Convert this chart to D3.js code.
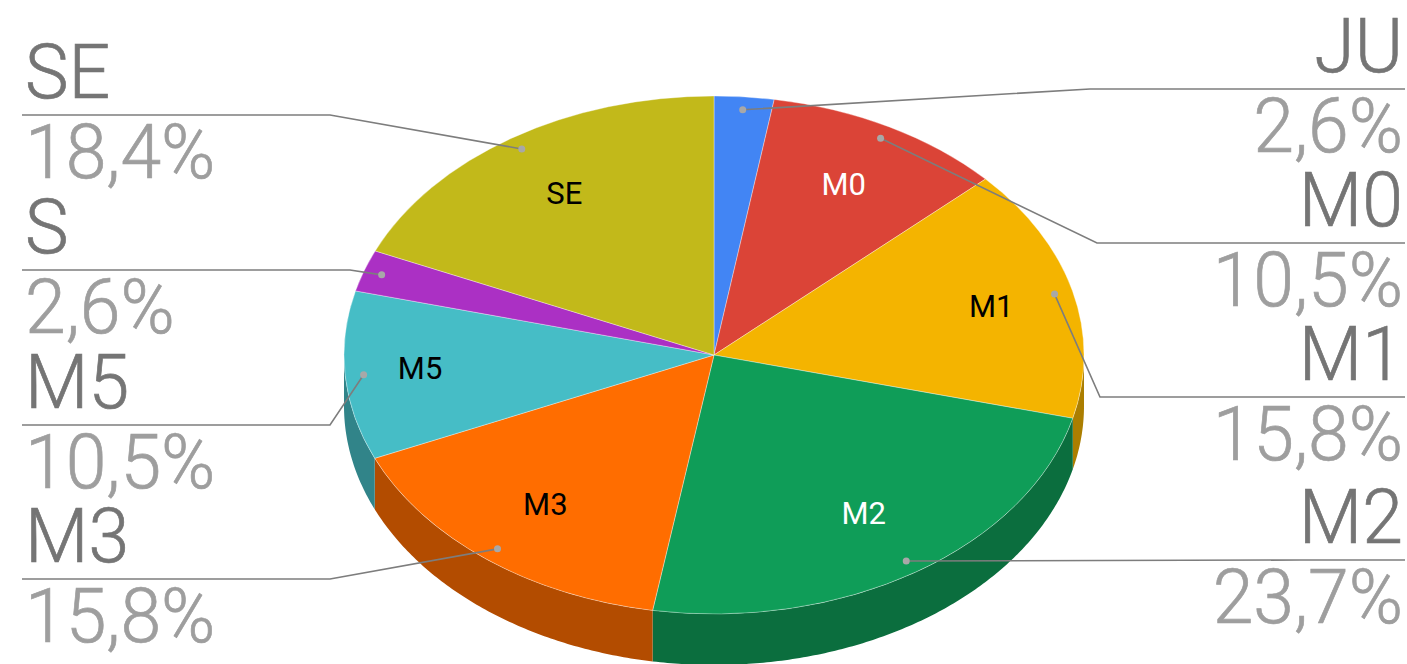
<!DOCTYPE html>
<html>
<head>
<meta charset="utf-8">
<title>Pie</title>
<script src="https://d3js.org/d3.v7.min.js"></script>
<style>
  html, body { margin: 0; padding: 0; background: #fff; }
  svg { display: block; font-family: Roboto, sans-serif; }
</style>
</head>
<body>
<svg id="chart" width="1407" height="664"></svg>
<script>
// data, clockwise from 12 o'clock
var names = ["JU", "M0", "M1", "M2", "M3", "M5", "S", "SE"];
var values = [2.6, 10.5, 15.8, 23.7, 15.8, 10.5, 2.6, 18.4];
var percentLabels = ["2,6%", "10,5%", "15,8%", "23,7%", "15,8%", "10,5%", "2,6%", "18,4%"];
var sliceColors = ["#4285f4", "#db4437", "#f4b400", "#0f9d58", "#ff6d00", "#46bdc6", "#ab30c4", "#c2b91a"];
var sideColors = ["#2e5dab", "#993026", "#ab7e00", "#0b6e3e", "#b34c00", "#318489", "#781f89", "#888212"];
var innerLabelColors = ["none", "#ffffff", "#000000", "#ffffff", "#000000", "#000000", "none", "#000000"];

var svg = d3.select("#chart");

// the tilted pie
var cx = 714, cy = 355, rx = 370, ry = 259, depth = 51;

var pie = d3.pie().sort(null).value(function (d) { return d; });
var slices = pie(values);

function px(a, k) { return cx + rx * k * Math.sin(a); }
function py(a, k) { return cy - ry * k * Math.cos(a); }
function midAngle(d) { return (d.startAngle + d.endAngle) / 2; }

// rim: only the part of the slice facing the viewer
var rim = d3.area()
  .x(function (a) { return px(a, 1); })
  .y0(function (a) { return py(a, 1); })
  .y1(function (a) { return py(a, 1) + depth; });

var rimGroup = svg.append("g");
slices.forEach(function (d, i) {
  var a0 = Math.max(d.startAngle, Math.PI / 2);
  var a1 = Math.min(d.endAngle, Math.PI * 1.5);
  if (a1 <= a0) return;
  rimGroup.append("path")
    .attr("d", rim(d3.range(a0, a1, 0.01).concat([a1])))
    .attr("fill", sideColors[i]);
});

// top face
var arc = d3.arc().innerRadius(0).outerRadius(rx);
svg.append("g")
  .attr("transform", "translate(" + cx + "," + cy + ") scale(1," + (ry / rx) + ")")
  .selectAll("path")
  .data(slices)
  .enter()
  .append("path")
  .attr("d", arc)
  .attr("fill", function (d, i) { return sliceColors[i]; })
  .attr("stroke", "#ffffff")
  .attr("stroke-opacity", 0.35)
  .attr("stroke-width", 1)
  .attr("vector-effect", "non-scaling-stroke");

// labels inside the slices, the two sideways ones sit further out
var innerNudge = { M1: 12, M5: -21 };
svg.append("g")
  .selectAll("text")
  .data(slices)
  .enter()
  .append("text")
  .attr("x", function (d, i) { return px(midAngle(d), 0.74) + (innerNudge[names[i]] || 0); })
  .attr("y", function (d) { return py(midAngle(d), 0.74); })
  .attr("dy", "0.29em")
  .attr("text-anchor", "middle")
  .style("font-size", "31px")
  .style("fill", function (d, i) { return innerLabelColors[i]; })
  .text(function (d, i) { return innerLabelColors[i] === "none" ? "" : names[i]; });

// leader lines and outside labels
var rowLeft = 22, rowRight = 1405;
var rows = {
  JU: { side: "right", y: 89, elbow: 1090 },
  M0: { side: "right", y: 243, elbow: 1097 },
  M1: { side: "right", y: 397, elbow: 1100 },
  M2: { side: "right", y: 560, elbow: 1300 },
  M3: { side: "left", y: 579, elbow: 330 },
  M5: { side: "left", y: 425, elbow: 330 },
  S: { side: "left", y: 270, elbow: 350 },
  SE: { side: "left", y: 115, elbow: 330 }
};

function outsideText(g, x, y, anchor, color, label) {
  g.append("text")
    .attr("transform", "translate(" + x + "," + y + ") scale(0.965,1)")
    .attr("text-anchor", anchor)
    .style("font-size", "76px")
    .style("font-weight", 300)
    .style("fill", color)
    .style("stroke", color)
    .style("stroke-width", 0.7)
    .text(label);
}

var leader = d3.line();
var outside = svg.append("g");
slices.forEach(function (d, i) {
  var r = rows[names[i]];
  var left = r.side === "left";
  var ax = px(midAngle(d), 0.95), ay = py(midAngle(d), 0.95);
  outside.append("path")
    .attr("d", leader([[left ? rowLeft : rowRight, r.y], [r.elbow, r.y], [ax, ay]]))
    .attr("fill", "none")
    .attr("stroke", "#7d7d7d")
    .attr("stroke-width", 1.6);
  outside.append("circle")
    .attr("cx", ax).attr("cy", ay).attr("r", 3.5)
    .attr("fill", "#a8a8a8");
  var tx = left ? rowLeft + 3 : rowRight - 2;
  var anchor = left ? "start" : "end";
  outsideText(outside, tx, r.y - 17.5, anchor, "#757575", names[i]);
  outsideText(outside, tx, r.y + 63, anchor, "#9e9e9e", percentLabels[i]);
});
</script>
</body>
</html>
